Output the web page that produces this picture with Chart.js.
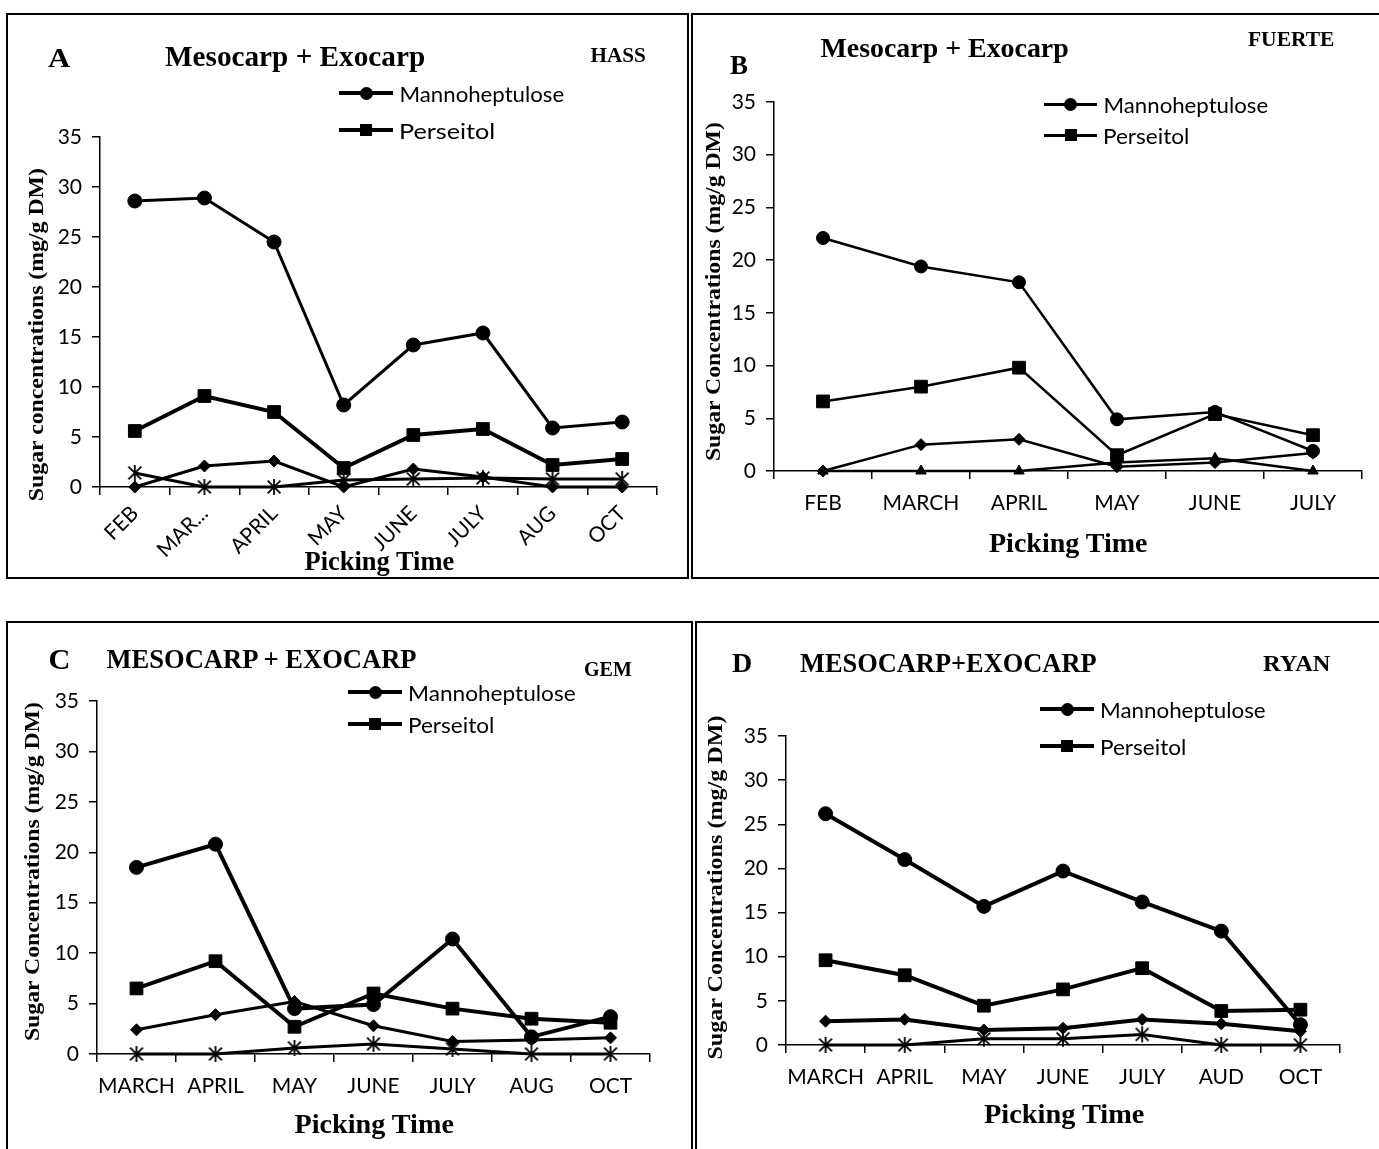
<!DOCTYPE html>
<html>
<head>
<meta charset="utf-8">
<script src="https://cdn.jsdelivr.net/npm/chart.js@4.4.0/dist/chart.umd.min.js"></script>
<style>
  body { margin: 0; background: #fff; width: 1379px; height: 1149px; overflow: hidden; position: relative; }
  .frame { position: absolute; border: 2px solid #000; box-sizing: border-box; }
  .cv { position: absolute; }
  .txt { position: absolute; white-space: nowrap; color: #000; line-height: 1.2; }
  .leg-line { position: absolute; background: #000; }
  .leg-mark { position: absolute; background: #000; }
</style>
</head>
<body>
<div class="frame" style="left:6px;top:13px;width:683px;height:566px"></div>
<div class="frame" style="left:691px;top:13px;width:700px;height:566px"></div>
<div class="frame" style="left:6px;top:621px;width:687px;height:600px"></div>
<div class="frame" style="left:695px;top:621px;width:700px;height:600px"></div>

<canvas id="chartA" class="cv"></canvas>
<canvas id="chartB" class="cv"></canvas>
<canvas id="chartC" class="cv"></canvas>
<canvas id="chartD" class="cv"></canvas>

<script>
// ---- data ----
const yTicks = [0, 5, 10, 15, 20, 25, 30, 35];

// A - HASS
const monthsA = ['FEB', 'MAR...', 'APRIL', 'MAY', 'JUNE', 'JULY', 'AUG', 'OCT'];
const mannoA = [28.6, 28.9, 24.5, 8.2, 14.2, 15.4, 5.9, 6.5];
const perseA = [5.6, 9.1, 7.5, 1.9, 5.2, 5.8, 2.2, 2.8];
const diamA = [0, 2.1, 2.6, 0, 1.8, 1.0, 0, 0];
const starA = [1.4, 0, 0, 0.7, 0.8, 0.9, 0.8, 0.8];

// B - FUERTE
const monthsB = ['FEB', 'MARCH', 'APRIL', 'MAY', 'JUNE', 'JULY'];
const mannoB = [22.1, 19.4, 17.9, 4.9, 5.6, 1.9];
const perseB = [6.6, 8.0, 9.8, 1.5, 5.4, 3.4];
const diamB = [0, 2.5, 3.0, 0.4, 0.8, 1.7];
const triB = [0, 0, 0, 0.8, 1.2, 0];

// C - GEM
const monthsC = ['MARCH', 'APRIL', 'MAY', 'JUNE', 'JULY', 'AUG', 'OCT'];
const mannoC = [18.5, 20.8, 4.5, 4.9, 11.4, 1.7, 3.7];
const perseC = [6.5, 9.2, 2.7, 6.0, 4.5, 3.5, 3.1];
const diamC = [2.4, 3.9, 5.2, 2.8, 1.25, 1.4, 1.6];
const starC = [0, 0, 0.6, 1.0, 0.5, 0, 0];

// D - RYAN
const monthsD = ['MARCH', 'APRIL', 'MAY', 'JUNE', 'JULY', 'AUD', 'OCT'];
const mannoD = [26.2, 21.0, 15.7, 19.7, 16.2, 12.9, 2.3];
const perseD = [9.6, 7.9, 4.45, 6.3, 8.7, 3.85, 4.0];
const diamD = [2.7, 2.9, 1.7, 1.9, 2.9, 2.4, 1.55];
const starD = [0, 0, 0.7, 0.7, 1.2, 0, 0];

// asterisk marker (X with a vertical bar, like the spreadsheet one)
function asterisk(size, lw) {
  const c = document.createElement('canvas');
  c.width = size; c.height = size;
  const g = c.getContext('2d');
  g.strokeStyle = '#000'; g.lineWidth = lw; g.lineCap = 'butt';
  const m = size / 2, r = size / 2 - 1;
  g.beginPath();
  g.moveTo(m - r * 0.8, m - r * 0.8); g.lineTo(m + r * 0.8, m + r * 0.8);
  g.moveTo(m + r * 0.8, m - r * 0.8); g.lineTo(m - r * 0.8, m + r * 0.8);
  g.moveTo(m, m - r); g.lineTo(m, m + r);
  g.stroke();
  return c;
}

function series(data, style, radius, width) {
  return {
    data: data,
    borderColor: '#000',
    backgroundColor: '#000',
    borderWidth: width,
    pointStyle: style,
    pointRadius: radius,
    pointBackgroundColor: '#000',
    pointBorderColor: '#000',
    pointBorderWidth: 1,
    tension: 0,
    clip: false
  };
}

const YW = 60;

function makeChart(id, box, area, labels, datasets, rot) {
  const cv = document.getElementById(id);
  cv.width = box.w; cv.height = box.h;
  cv.style.left = box.left + 'px';
  cv.style.top = box.top + 'px';
  const XH = rot ? 80 : 60;
  const tickFont = { family: 'Lato', size: 21 };
  new Chart(cv, {
    type: 'line',
    data: { labels: labels, datasets: datasets },
    options: {
      responsive: false,
      animation: false,
      devicePixelRatio: 1,
      layout: {
        autoPadding: false,
        padding: {
          left: area.l - box.left - YW,
          right: box.left + box.w - area.r,
          top: area.t - box.top,
          bottom: box.top + box.h - area.b - XH
        }
      },
      plugins: { legend: { display: false }, tooltip: { enabled: false } },
      scales: {
        x: {
          offset: true,
          grid: { offset: true, drawOnChartArea: false, tickLength: 8, color: '#000', lineWidth: 1.5 },
          border: { color: '#000', width: 1.5 },
          ticks: { color: '#000', font: tickFont, padding: rot ? 6 : 12, autoSkip: false,
                   maxRotation: rot, minRotation: rot },
          afterFit: s => { s.height = XH; }
        },
        y: {
          min: 0, max: 35,
          afterBuildTicks: s => { s.ticks = yTicks.map(v => ({ value: v })); },
          grid: { drawOnChartArea: false, tickLength: 8, color: '#000', lineWidth: 1.5 },
          border: { color: '#000', width: 1.5 },
          ticks: { color: '#000', font: tickFont, padding: 10 },
          afterFit: s => { s.width = YW; }
        }
      }
    }
  });
}

const star8 = asterisk(18, 1.8);

makeChart('chartA', { left: 8, top: 15, w: 679, h: 562 }, { l: 100, r: 657, t: 137, b: 487 }, monthsA, [
  series(mannoA, 'circle', 7, 3),
  series(perseA, 'rect', 9, 4),
  series(diamA, 'rectRot', 6, 3),
  series(starA, star8, 9, 3)
], 45);

makeChart('chartB', { left: 693, top: 15, w: 686, h: 562 }, { l: 774, r: 1362, t: 102, b: 471 }, monthsB, [
  series(mannoB, 'circle', 6.5, 2.5),
  series(perseB, 'rect', 9, 2.5),
  series(diamB, 'rectRot', 6, 2.5),
  series(triB, 'triangle', 6, 2.5)
], 0);

makeChart('chartC', { left: 8, top: 623, w: 683, h: 526 }, { l: 97, r: 650, t: 701, b: 1054 }, monthsC, [
  series(mannoC, 'circle', 7, 4),
  series(perseC, 'rect', 9, 4),
  series(diamC, 'rectRot', 6, 3),
  series(starC, star8, 9, 3)
], 0);

makeChart('chartD', { left: 697, top: 623, w: 682, h: 526 }, { l: 786, r: 1340, t: 736, b: 1045 }, monthsD, [
  series(mannoD, 'circle', 7, 4),
  series(perseD, 'rect', 9, 4),
  series(diamD, 'rectRot', 6, 4),
  series(starD, star8, 9, 3)
], 0);

// ---- text ----
const SERIF = "bold {s}px 'Liberation Serif', 'Times New Roman', serif";
function serif(s) { return SERIF.replace('{s}', s); }

function addText(str, font, cx, cy, w, rot, alignLeft) {
  const d = document.createElement('div');
  d.className = 'txt';
  d.textContent = str;
  d.style.font = font;
  d.style.lineHeight = '1.2';
  document.body.appendChild(d);
  const nat = d.offsetWidth, h = d.offsetHeight;
  const k = w ? w / nat : 1;
  let left = alignLeft ? cx - nat * (1 - k) / 2 : cx - nat / 2;
  d.style.left = left + 'px';
  d.style.top = (cy - h / 2) + 'px';
  d.style.transform = 'rotate(' + (rot || 0) + 'deg) scaleX(' + k + ')';
}

// panel letters, titles, cultivar names
addText('A', serif(28), 59, 58, 22);
addText('Mesocarp + Exocarp', serif(29), 295, 56, 260);
addText('HASS', serif(20), 618, 55, 55);
addText('B', serif(27), 739, 65, 18);
addText('Mesocarp + Exocarp', serif(28), 944, 48, 248);
addText('FUERTE', serif(20), 1291, 39, 86);
addText('C', serif(29), 59, 659, 22);
addText('MESOCARP + EXOCARP', serif(28), 261, 659, 310);
addText('GEM', serif(20), 608, 669, 48);
addText('D', serif(28), 742, 663, 20);
addText('MESOCARP+EXOCARP', serif(28), 948, 663, 297);
addText('RYAN', serif(23), 1297, 664, 68);

// axis titles
addText('Picking Time', serif(27), 379, 561, 150);
addText('Picking Time', serif(28), 1068, 543, 158);
addText('Picking Time', serif(28), 374, 1124, 159);
addText('Picking Time', serif(28), 1064, 1114, 160);
addText('Sugar concentrations (mg/g DM)', serif(21), 37, 334, 333, -90);
addText('Sugar Concentrations (mg/g DM)', serif(21), 714, 291, 339, -90);
addText('Sugar Concentrations (mg/g DM)', serif(21), 33, 871, 339, -90);
addText('Sugar Concentrations (mg/g DM)', serif(21), 716, 887, 344, -90);

// legends (two named entries per panel)
function legendItem(x1, x2, cy, lw, shape, label, tw) {
  const ln = document.createElement('div');
  ln.className = 'leg-line';
  ln.style.left = x1 + 'px'; ln.style.width = (x2 - x1) + 'px';
  ln.style.top = (cy - lw / 2) + 'px'; ln.style.height = lw + 'px';
  document.body.appendChild(ln);
  const mk = document.createElement('div');
  mk.className = 'leg-mark';
  const sz = shape === 'circle' ? 13 : 12;
  mk.style.width = sz + 'px'; mk.style.height = sz + 'px';
  mk.style.left = ((x1 + x2) / 2 - sz / 2) + 'px';
  mk.style.top = (cy - sz / 2) + 'px';
  if (shape === 'circle') mk.style.borderRadius = '50%';
  document.body.appendChild(mk);
  addText(label, "21px Lato, sans-serif", x2 + 6, cy, tw, 0, true);
}
legendItem(339, 393, 93, 4, 'circle', 'Mannoheptulose', 165);
legendItem(339, 393, 130, 4, 'rect', 'Perseitol', 96);
legendItem(1044, 1097, 104, 3, 'circle', 'Mannoheptulose', 165);
legendItem(1044, 1097, 135, 3, 'rect', 'Perseitol', 86);
legendItem(348, 402, 692, 4, 'circle', 'Mannoheptulose', 168);
legendItem(348, 402, 724, 4, 'rect', 'Perseitol', 86);
legendItem(1040, 1094, 709, 4, 'circle', 'Mannoheptulose', 166);
legendItem(1040, 1094, 746, 4, 'rect', 'Perseitol', 86);
</script>
</body>
</html>
